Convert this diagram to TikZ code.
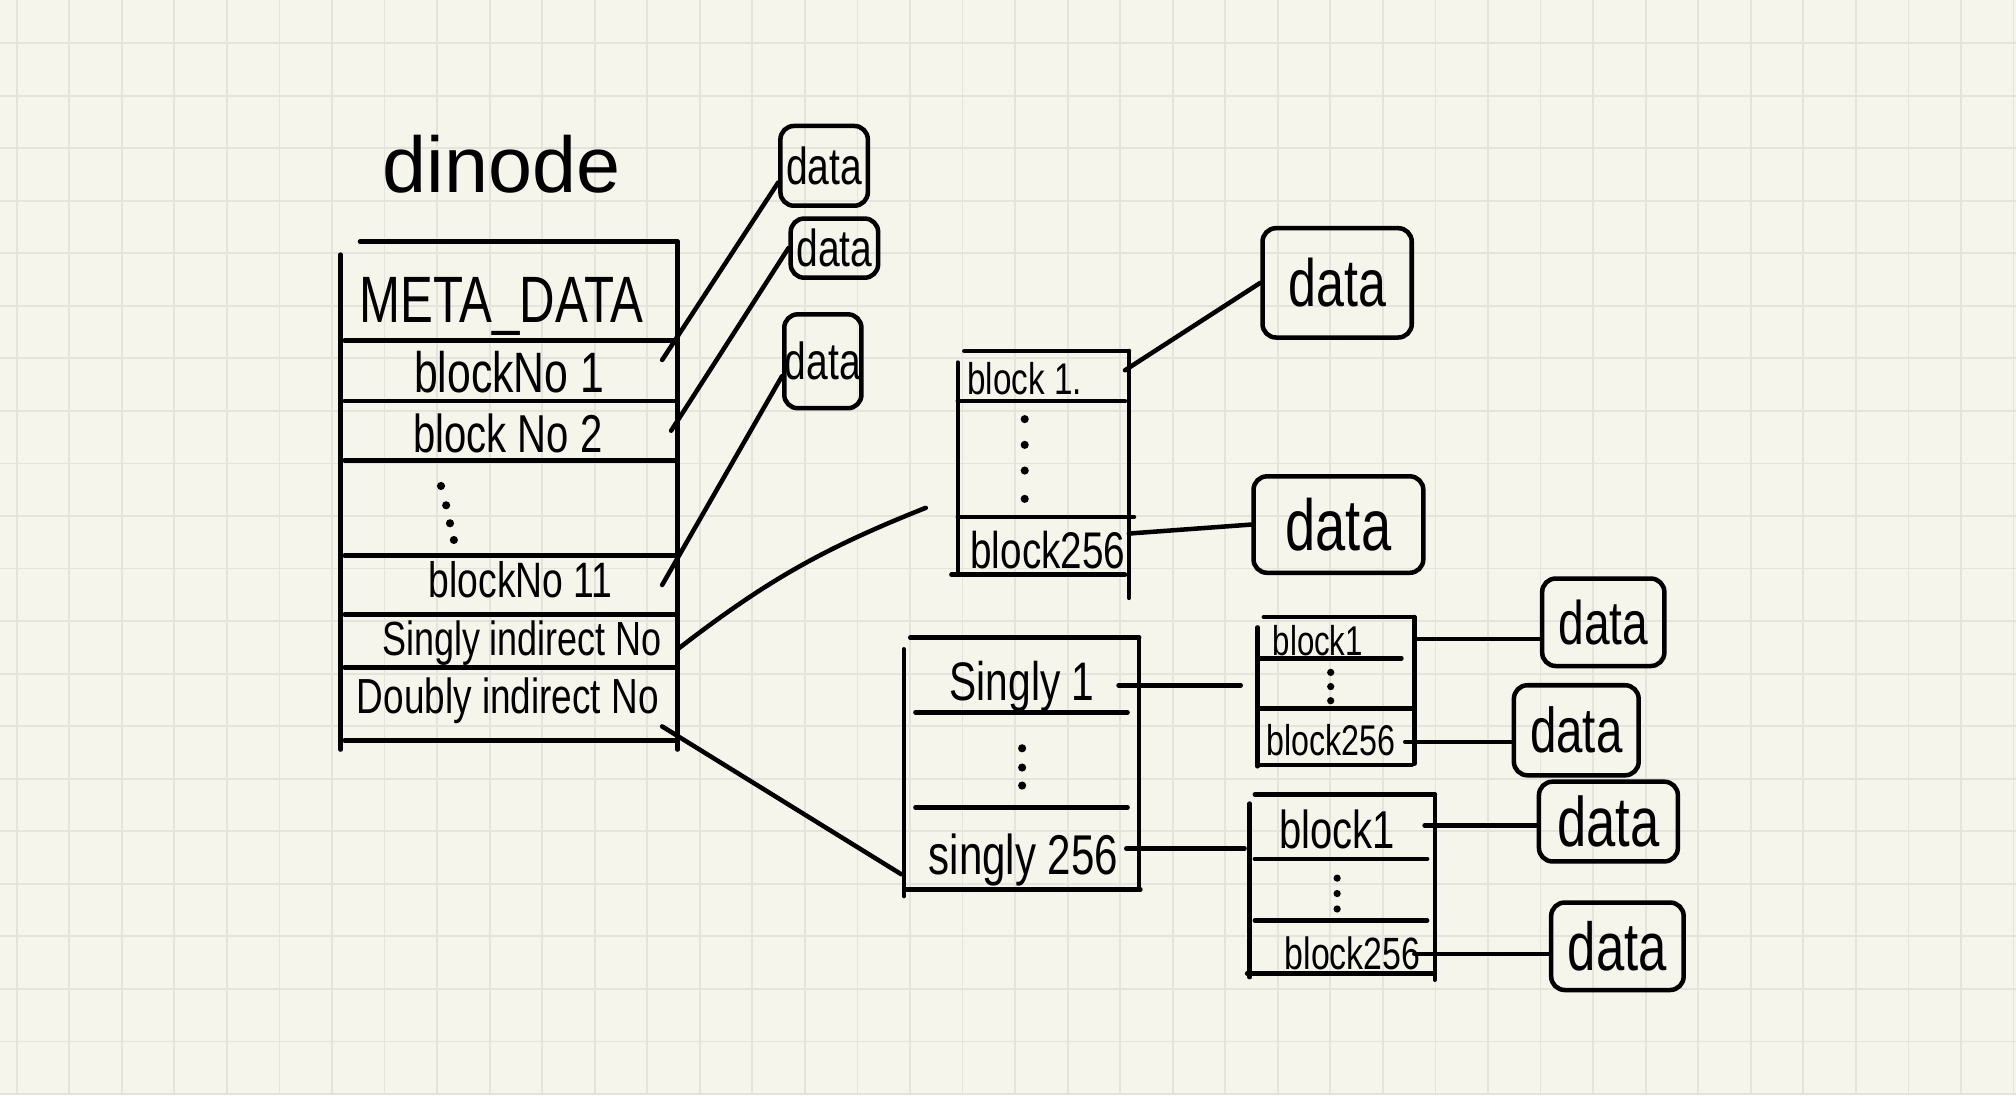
\documentclass[tikz,border=0pt]{standalone}
\usepackage{fontspec}
\usepackage{graphicx}
\newfontfamily\handfont{Liberation Sans}[FakeStretch=0.75]
\newfontfamily\titlefont{Liberation Sans}
\definecolor{paper}{RGB}{245,245,236}
\definecolor{gridline}{RGB}{228,228,220}

\tikzset{
	pen/.style={line width=1pt, line cap=round},
	link/.style={pen},
	cell/.style={inner sep=0pt, anchor=base, font=\handfont\fontsize{#1}{#1}\selectfont},
	databox/.style={draw, pen, rounded corners=3pt, inner sep=0pt, font=\handfont\fontsize{#1}{#1}\selectfont}
}

\begin{document}
\begin{tikzpicture}[x=0.01cm, y=-0.01cm]
	
	% paper
	\fill[paper] (0,0) rectangle (1568,852);
	\useasboundingbox (0,0) rectangle (1568,852);
	\foreach \gx in {13,53.87,...,1568}
		\draw[gridline, line width=0.4pt] (\gx,0) -- (\gx,852);
	\foreach \gy in {33.5,74.37,...,852}
		\draw[gridline, line width=0.4pt] (0,\gy) -- (1568,\gy);
	
	\node[inner sep=0pt, anchor=base, font=\titlefont\fontsize{17.5}{17.5}\selectfont] (title) at (390,150) {dinode};
	
	% dinode table
	\draw[pen] (280,188) -- (527,188);
	\draw[pen] (265,198) -- (265,583);
	\draw[pen] (527,188) -- (527,583);
	\foreach \y in {265,312,358,432,478,519,576}
		\draw[pen] (268,\y) -- (525,\y);
	
	\foreach \name/\x/\y/\size/\label in {
		meta/390/251/14.5/{META\_DATA},
		bn1/396/305/12.6/{blockNo 1},
		bn2/395/352/11.8/{block No 2},
		bn11/405/465/11/{blockNo 11},
		sind/406/510/10.6/{Singly indirect No},
		dind/395/555/10.9/{Doubly indirect No}
	}
	{
		\node[cell=\size] (\name) at (\x,\y) {\label};
	}
	\foreach \dx/\dy in {343/378,347/393,350/407,353/420}
		\fill (\dx,\dy) circle (0.9pt);
	
	% direct data blocks
	\node[databox=11.5, minimum width=0.68cm, minimum height=0.62cm] (d1) at (641,129) {data};
	\node[databox=11.5, minimum width=0.68cm, minimum height=0.46cm] (d2) at (649,193) {data};
	\node[databox=11.5, minimum width=0.60cm, minimum height=0.73cm] (d3) at (640,281) {data};
	
	\coordinate (bn1-r) at (515,280);
	\coordinate (bn2-r) at (522,335);
	\coordinate (bn11-r) at (515,455);
	\coordinate (sind-r) at (527,505);
	\coordinate (dind-r) at (515,565);
	\draw[link] (bn1-r) -- (d1.200);
	\draw[link] (bn2-r) -- (d2.west);
	\draw[link] (bn11-r) -- (d3.200);
	
	% singly indirect block
	\draw[pen] (750,273) -- (878,273);
	\draw[pen] (745,282) -- (745,445);
	\draw[pen] (878,273) -- (878,465);
	\draw[pen] (745,312) -- (875,312);
	\draw[pen] (745,402) -- (882,402);
	\draw[pen] (740,447) -- (875,447);
	\node[cell=9.8] (sb1) at (797,307) {block 1.};
	\node[cell=11.4] (sb256) at (815,442) {block256};
	\foreach \dy in {326,346,366,388}
		\fill (797,\dy) circle (0.9pt);
	\coordinate (sblk-in) at (720,395);
	\draw[link] (sind-r) to[bend left=8] (sblk-in);
	
	\node[databox=14.8, minimum width=1.16cm, minimum height=0.85cm] (dA) at (1040,220) {data};
	\node[databox=16, minimum width=1.32cm, minimum height=0.75cm] (dB) at (1041,408) {data};
	\coordinate (sb1-r) at (875,288);
	\coordinate (sb256-r) at (878,415);
	\draw[link] (sb1-r) -- (dA.west);
	\draw[link] (sb256-r) -- (dB.west);
	
	% doubly indirect block
	\draw[pen] (708,496) -- (886,496);
	\draw[pen] (703,505) -- (703,697);
	\draw[pen] (886,496) -- (886,692);
	\draw[pen] (712,554) -- (877,554);
	\draw[pen] (712,628) -- (877,628);
	\draw[pen] (705,692) -- (887,692);
	\node[cell=12] (ds1) at (795,545) {Singly 1};
	\node[cell=12.4] (ds256) at (796,680) {singly 256};
	\foreach \dy in {582,597,611}
		\fill (795,\dy) circle (0.9pt);
	\coordinate (dblk-in) at (701,680);
	\draw[link] (dind-r) -- (dblk-in);
	
	% second level blocks
	\draw[pen] (983,480) -- (1100,480);
	\draw[pen] (978,488) -- (978,596);
	\draw[pen] (1100,480) -- (1100,594);
	\draw[pen] (978,512) -- (1090,512);
	\draw[pen] (978,551) -- (1100,551);
	\draw[pen] (980,595) -- (1098,595);
	\node[cell=9.2] (t1b1) at (1025,510) {block1};
	\node[cell=9.5] (t1b256) at (1035,588) {block256};
	\foreach \dy in {523,534,545}
		\fill (1035,\dy) circle (0.8pt);
	
	\draw[pen] (976,618) -- (1116,618);
	\draw[pen] (972,625) -- (972,760);
	\draw[pen] (1116,618) -- (1116,762);
	\draw[pen] (976,668) -- (1110,668);
	\draw[pen] (976,716) -- (1110,716);
	\draw[pen] (970,757) -- (1115,757);
	\node[cell=11.8] (t2b1) at (1040,660) {block1};
	\node[cell=10] (t2b256) at (1052,754) {block256};
	\foreach \dy in {683,695,707}
		\fill (1040,\dy) circle (0.8pt);
	
	\coordinate (ds1-r) at (870,533);
	\coordinate (ds256-r) at (876,660);
	\coordinate (t1-in) at (965,533);
	\coordinate (t2-in) at (968,660);
	\draw[link] (ds1-r) -- (t1-in);
	\draw[link] (ds256-r) -- (t2-in);
	
	% data blocks
	\node[databox=13.6, minimum width=0.95cm, minimum height=0.68cm] (e1) at (1247,484) {data};
	\node[databox=14, minimum width=0.97cm, minimum height=0.70cm] (e2) at (1226,568) {data};
	\node[databox=15.5, minimum width=1.08cm, minimum height=0.62cm] (e3) at (1251,639) {data};
	\node[databox=15, minimum width=1.03cm, minimum height=0.68cm] (e4) at (1258,736) {data};
	
	\coordinate (t1b1-r) at (1100,497);
	\coordinate (t1b256-r) at (1093,577);
	\coordinate (t2b1-r) at (1108,642);
	\coordinate (t2b256-r) at (1100,742);
	\draw[link] (t1b1-r) -- (t1b1-r -| e1.west);
	\draw[link] (t1b256-r) -- (t1b256-r -| e2.west);
	\draw[link] (t2b1-r) -- (t2b1-r -| e3.west);
	\draw[link] (t2b256-r) -- (t2b256-r -| e4.west);
	
\end{tikzpicture}
\end{document}
